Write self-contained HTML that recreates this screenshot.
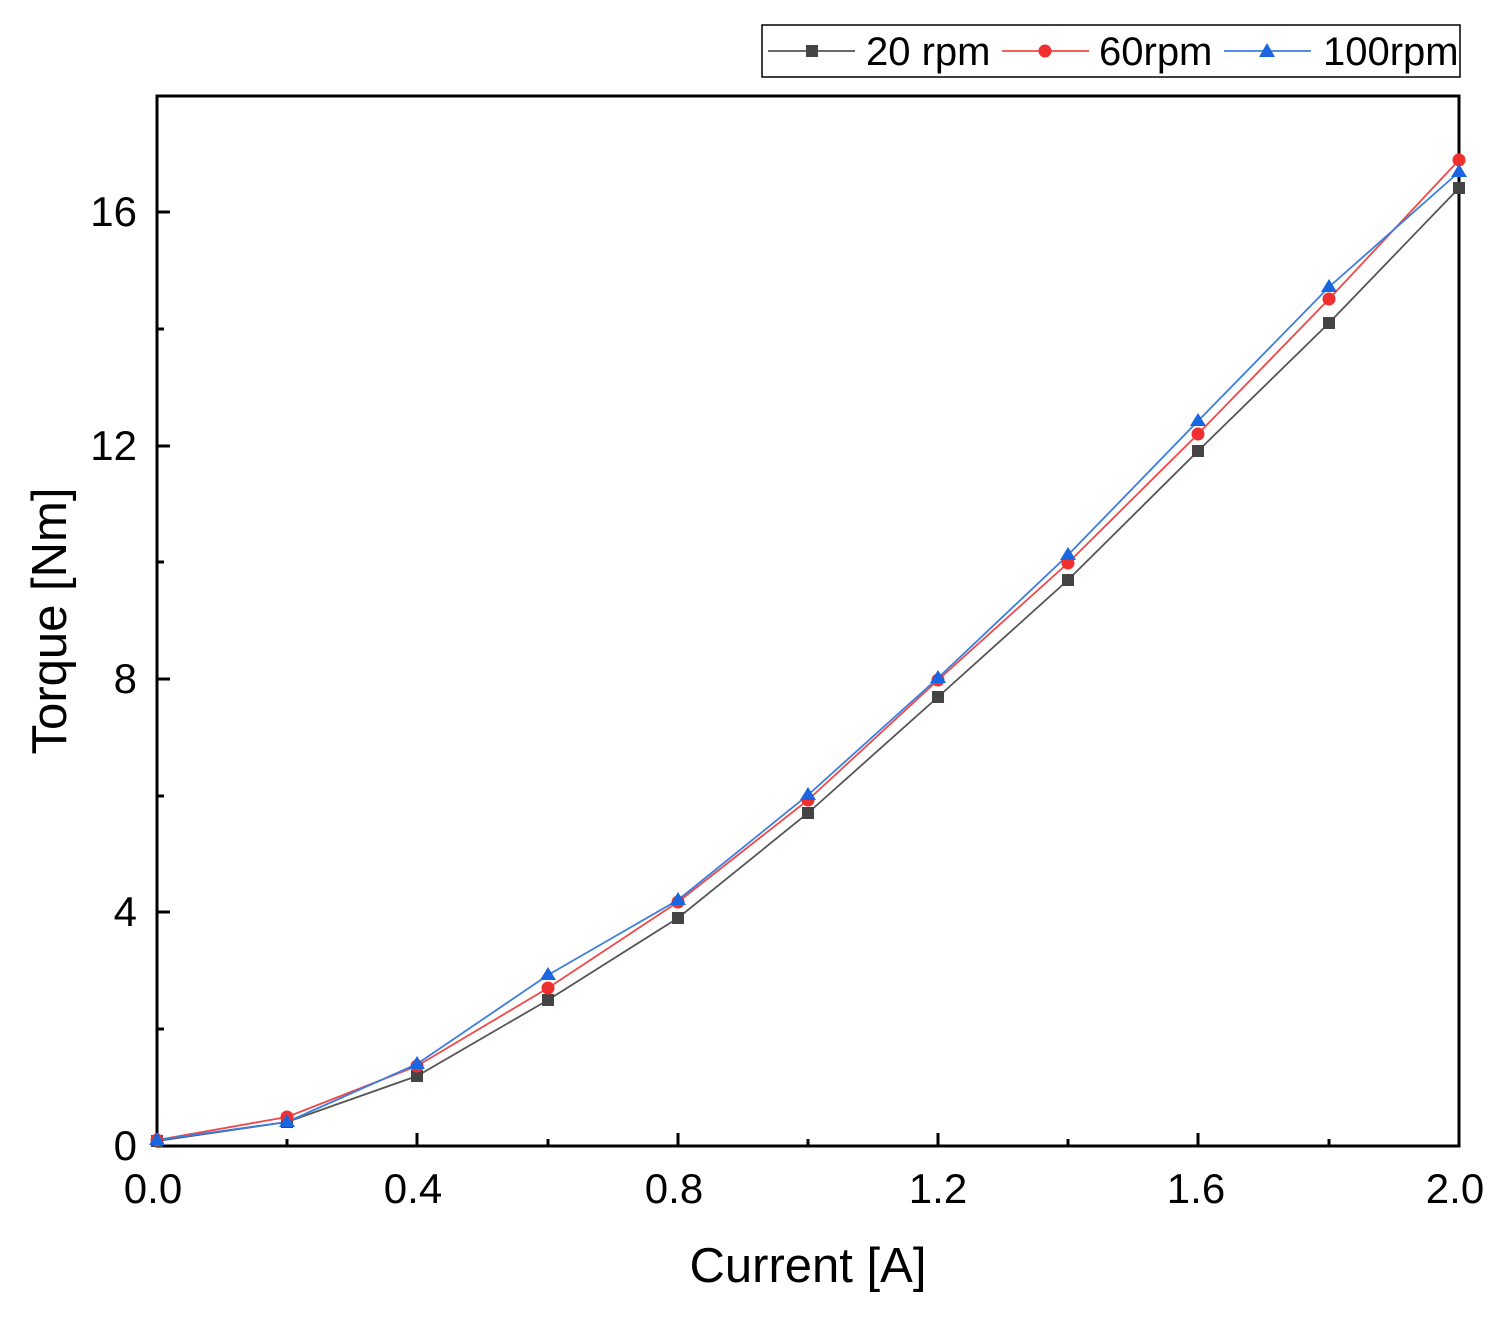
<!DOCTYPE html>
<html><head><meta charset="utf-8"><style>
html,body{margin:0;padding:0;background:#fff;}
svg{display:block;font-family:"Liberation Sans",Arial,sans-serif;}
</style></head><body>
<svg width="1503" height="1320" viewBox="0 0 1503 1320" xmlns="http://www.w3.org/2000/svg">
<rect width="1503" height="1320" fill="#fff"/>
<rect x="157" y="96" width="1302" height="1050" fill="none" stroke="#000" stroke-width="3"/>
<g stroke="#000" stroke-width="3">
<line x1="157" y1="1146" x2="157" y2="1133"/>
<line x1="287" y1="1146" x2="287" y2="1139"/>
<line x1="417" y1="1146" x2="417" y2="1133"/>
<line x1="548" y1="1146" x2="548" y2="1139"/>
<line x1="678" y1="1146" x2="678" y2="1133"/>
<line x1="808" y1="1146" x2="808" y2="1139"/>
<line x1="938" y1="1146" x2="938" y2="1133"/>
<line x1="1068" y1="1146" x2="1068" y2="1139"/>
<line x1="1198" y1="1146" x2="1198" y2="1133"/>
<line x1="1329" y1="1146" x2="1329" y2="1139"/>
<line x1="157" y1="1029" x2="164" y2="1029"/>
<line x1="157" y1="912" x2="170" y2="912"/>
<line x1="157" y1="796" x2="164" y2="796"/>
<line x1="157" y1="679" x2="170" y2="679"/>
<line x1="157" y1="562" x2="164" y2="562"/>
<line x1="157" y1="446" x2="170" y2="446"/>
<line x1="157" y1="329" x2="164" y2="329"/>
<line x1="157" y1="212" x2="170" y2="212"/>
</g>
<g font-size="42" fill="#000" text-anchor="middle">
<text x="153" y="1203">0.0</text>
<text x="413" y="1203">0.4</text>
<text x="674" y="1203">0.8</text>
<text x="938" y="1203">1.2</text>
<text x="1196" y="1203">1.6</text>
<text x="1455" y="1203">2.0</text>
</g>
<g font-size="42" fill="#000" text-anchor="end">
<text x="137" y="1160">0</text>
<text x="137" y="926">4</text>
<text x="137" y="693">8</text>
<text x="137" y="460">12</text>
<text x="137" y="226">16</text>
</g>
<text x="808" y="1282" font-size="49" text-anchor="middle">Current [A]</text>
<text transform="translate(66,621) rotate(-90)" font-size="49" text-anchor="middle">Torque [Nm]</text>
<polyline fill="none" stroke="#555" stroke-width="1.8" points="157,1141 287,1122 417,1076 548,1000 678,918 808,813 938,697 1068,580 1198,451 1329,323 1459,188"/>
<polyline fill="none" stroke="#f04848" stroke-width="1.8" points="157,1140 287,1117 417,1066 548,988 678,902 808,800 938,680 1068,563 1198,434 1329,299 1459,160"/>
<polyline fill="none" stroke="#3b7de0" stroke-width="1.8" points="157,1140 287,1122 417,1064 548,975 678,900 808,795 938,678 1068,555 1198,421 1329,287 1459,172"/>
<g fill="#444">
<rect x="151" y="1135" width="12" height="12"/><rect x="281" y="1116" width="12" height="12"/><rect x="411" y="1070" width="12" height="12"/><rect x="542" y="994" width="12" height="12"/><rect x="672" y="912" width="12" height="12"/><rect x="802" y="807" width="12" height="12"/><rect x="932" y="691" width="12" height="12"/><rect x="1062" y="574" width="12" height="12"/><rect x="1192" y="445" width="12" height="12"/><rect x="1323" y="317" width="12" height="12"/><rect x="1453" y="182" width="12" height="12"/>
</g>
<g fill="#f03030">
<circle cx="157" cy="1140" r="6.5"/><circle cx="287" cy="1117" r="6.5"/><circle cx="417" cy="1066" r="6.5"/><circle cx="548" cy="988" r="6.5"/><circle cx="678" cy="902" r="6.5"/><circle cx="808" cy="800" r="6.5"/><circle cx="938" cy="680" r="6.5"/><circle cx="1068" cy="563" r="6.5"/><circle cx="1198" cy="434" r="6.5"/><circle cx="1329" cy="299" r="6.5"/><circle cx="1459" cy="160" r="6.5"/>
</g>
<g fill="#1a66e0">
<polygon points="157,1132 165,1145 149,1145"/><polygon points="287,1114 295,1127 279,1127"/><polygon points="417,1056 425,1069 409,1069"/><polygon points="548,967 556,980 540,980"/><polygon points="678,892 686,905 670,905"/><polygon points="808,787 816,800 800,800"/><polygon points="938,670 946,683 930,683"/><polygon points="1068,547 1076,560 1060,560"/><polygon points="1198,413 1206,426 1190,426"/><polygon points="1329,279 1337,292 1321,292"/><polygon points="1459,164 1467,177 1451,177"/>
</g>
<rect x="762" y="25" width="698" height="52" fill="#fff" stroke="#000" stroke-width="1.5"/>
<line x1="768" y1="51" x2="855" y2="51" stroke="#555" stroke-width="1.8"/>
<rect x="806" y="45" width="12" height="12" fill="#444"/>
<text x="866" y="65" font-size="40">20 rpm</text>
<line x1="1002" y1="51" x2="1089" y2="51" stroke="#f04848" stroke-width="1.8"/>
<circle cx="1045" cy="51" r="6.5" fill="#f03030"/>
<text x="1099" y="65" font-size="40">60rpm</text>
<line x1="1224" y1="51" x2="1311" y2="51" stroke="#3b7de0" stroke-width="1.8"/>
<polygon points="1267,43 1275,57 1259,57" fill="#1a66e0"/>
<text x="1323" y="65" font-size="40">100rpm</text>
</svg>
</body></html>
